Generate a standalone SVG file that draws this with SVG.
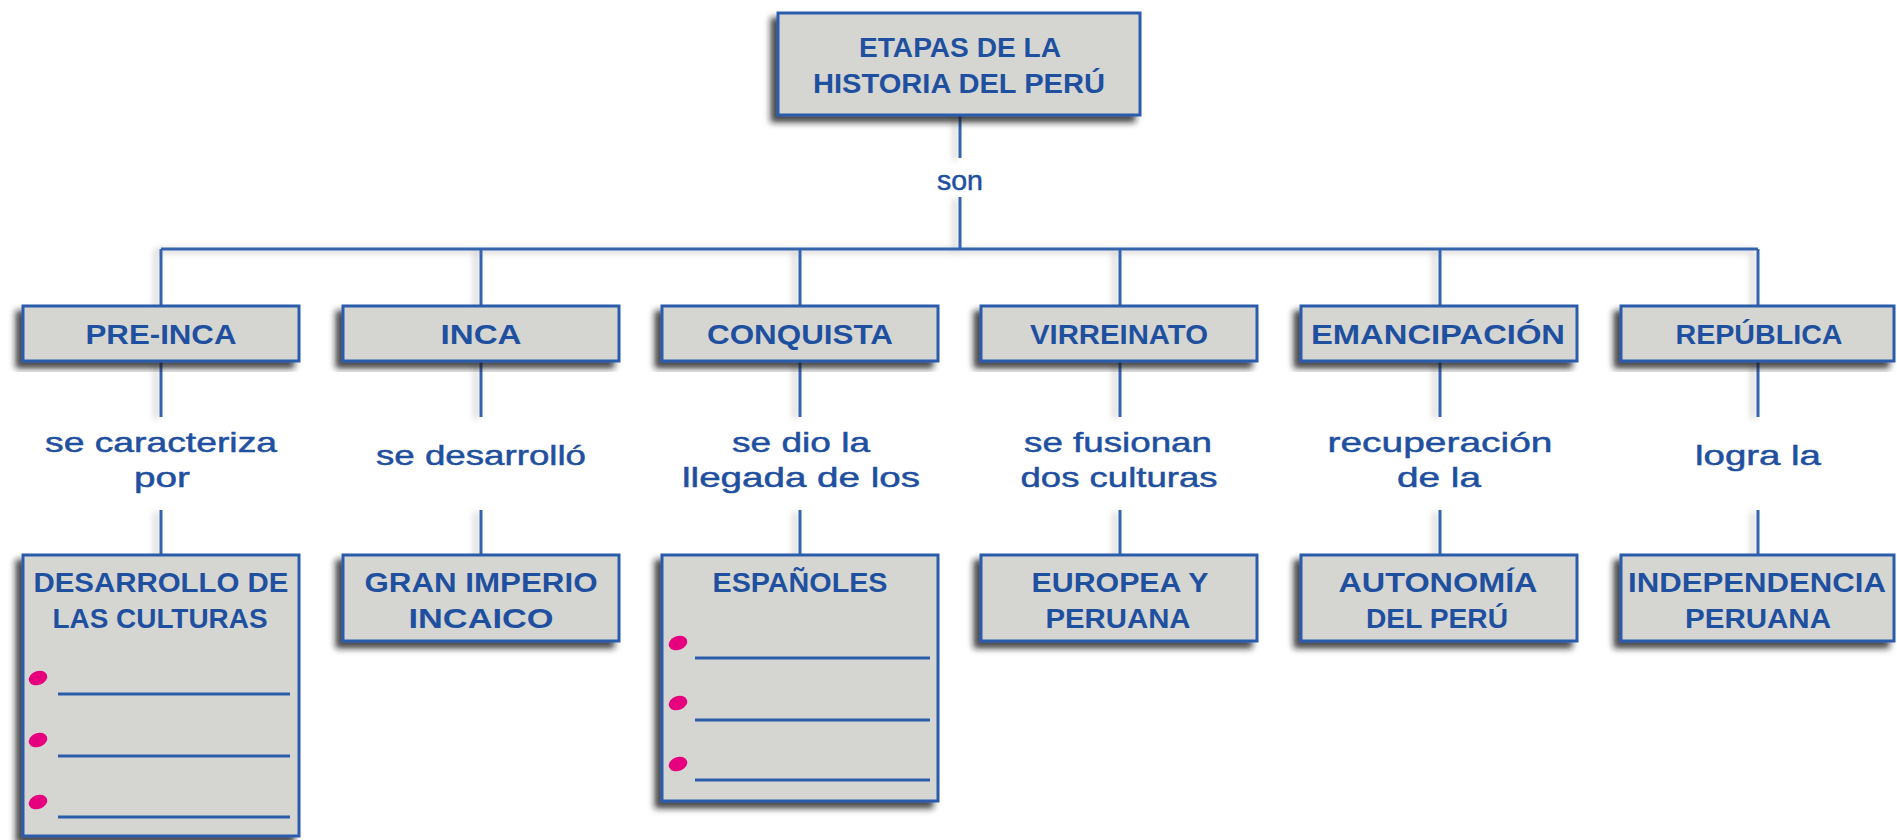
<svg xmlns="http://www.w3.org/2000/svg" width="1897" height="840" viewBox="0 0 1897 840">
<defs>
<filter id="sh" x="-10%" y="-10%" width="125%" height="130%">
<feDropShadow dx="-6" dy="6" stdDeviation="3" flood-color="#1a1a1a" flood-opacity="0.8"/>
</filter>
<filter id="lsh" x="-50%" y="-5%" width="200%" height="110%">
<feDropShadow dx="-5" dy="2" stdDeviation="3" flood-color="#000" flood-opacity="0.25"/>
</filter>
<style>
.box{fill:#d5d6d2;stroke:#2b5cab;stroke-width:3;filter:url(#sh)}
.t{font-family:"Liberation Sans",Arial,sans-serif;font-weight:700;font-size:27px;fill:#1f50a0;text-anchor:middle}
.l{font-family:"Liberation Sans",Arial,sans-serif;font-size:28px;fill:#1f50a0;stroke:#1f50a0;stroke-width:0.5;text-anchor:middle}
.c{stroke:#3563ae;stroke-width:3;fill:none}
.bl{fill:#e6007e}
.dl{stroke:#2b5cab;stroke-width:3}
</style>
</defs>
<rect width="1897" height="840" fill="#ffffff"/>
<g id="connectors" filter="url(#lsh)">
<path class="c" d="M960 115V158M960 197V249M161 249H1758"/>
<path class="c" d="M161 249V306M481 249V306M800 249V306M1120 249V306M1440 249V306M1758 249V306"/>
<path class="c" d="M161 361V417M161 510V555M481 361V417M481 510V555M800 361V417M800 510V555M1120 361V417M1120 510V555M1440 361V417M1440 510V555M1758 361V417M1758 510V555"/>
</g>
<g id="labels">
<text class="l" x="960" y="190" textLength="46" lengthAdjust="spacingAndGlyphs">son</text>
<text class="l" x="161" y="452" textLength="232" lengthAdjust="spacingAndGlyphs">se caracteriza</text>
<text class="l" x="162" y="487" textLength="56" lengthAdjust="spacingAndGlyphs">por</text>
<text class="l" x="481" y="465" textLength="210" lengthAdjust="spacingAndGlyphs">se desarrolló</text>
<text class="l" x="801" y="452" textLength="138" lengthAdjust="spacingAndGlyphs">se dio la</text>
<text class="l" x="801" y="487" textLength="238" lengthAdjust="spacingAndGlyphs">llegada de los</text>
<text class="l" x="1118" y="452" textLength="188" lengthAdjust="spacingAndGlyphs">se fusionan</text>
<text class="l" x="1119" y="487" textLength="197" lengthAdjust="spacingAndGlyphs">dos culturas</text>
<text class="l" x="1440" y="452" textLength="225" lengthAdjust="spacingAndGlyphs">recuperación</text>
<text class="l" x="1439" y="487" textLength="84" lengthAdjust="spacingAndGlyphs">de la</text>
<text class="l" x="1758" y="465" textLength="126" lengthAdjust="spacingAndGlyphs">logra la</text>
</g>
<g id="root">
<rect class="box" x="778" y="13" width="362" height="102"/>
<text class="t" x="960" y="57" textLength="202" lengthAdjust="spacingAndGlyphs">ETAPAS DE LA</text>
<text class="t" x="959" y="93" textLength="292" lengthAdjust="spacingAndGlyphs">HISTORIA DEL PERÚ</text>
</g>
<g id="preinca">
<rect class="box" x="23" y="306" width="276" height="55"/>
<text class="t" x="161" y="344" textLength="151" lengthAdjust="spacingAndGlyphs">PRE-INCA</text>
</g>
<g id="inca">
<rect class="box" x="343" y="306" width="276" height="55"/>
<text class="t" x="481" y="344" textLength="81" lengthAdjust="spacingAndGlyphs">INCA</text>
</g>
<g id="conquista">
<rect class="box" x="662" y="306" width="276" height="55"/>
<text class="t" x="800" y="344" textLength="186" lengthAdjust="spacingAndGlyphs">CONQUISTA</text>
</g>
<g id="virreinato">
<rect class="box" x="981" y="306" width="276" height="55"/>
<text class="t" x="1119" y="344" textLength="178" lengthAdjust="spacingAndGlyphs">VIRREINATO</text>
</g>
<g id="emancipacion">
<rect class="box" x="1301" y="306" width="276" height="55"/>
<text class="t" x="1438" y="344" textLength="254" lengthAdjust="spacingAndGlyphs">EMANCIPACIÓN</text>
</g>
<g id="republica">
<rect class="box" x="1621" y="306" width="273" height="55"/>
<text class="t" x="1759" y="344" textLength="167" lengthAdjust="spacingAndGlyphs">REPÚBLICA</text>
</g>
<g id="desarrollo">
<rect class="box" x="23" y="555" width="276" height="281"/>
<text class="t" x="161" y="592" textLength="255" lengthAdjust="spacingAndGlyphs">DESARROLLO DE</text>
<text class="t" x="160" y="628" textLength="215" lengthAdjust="spacingAndGlyphs">LAS CULTURAS</text>
<ellipse class="bl" cx="38" cy="678" rx="9.5" ry="7" transform="rotate(-20 38 678)"/>
<ellipse class="bl" cx="38" cy="740" rx="9.5" ry="7" transform="rotate(-20 38 740)"/>
<ellipse class="bl" cx="38" cy="802" rx="9.5" ry="7" transform="rotate(-20 38 802)"/>
<path class="dl" d="M58 694H290M58 756H290M58 817H290"/>
</g>
<g id="gran-imperio">
<rect class="box" x="343" y="555" width="276" height="86"/>
<text class="t" x="481" y="592" textLength="233" lengthAdjust="spacingAndGlyphs">GRAN IMPERIO</text>
<text class="t" x="481" y="628" textLength="145" lengthAdjust="spacingAndGlyphs">INCAICO</text>
</g>
<g id="espanoles">
<rect class="box" x="662" y="555" width="276" height="246"/>
<text class="t" x="800" y="592" textLength="175" lengthAdjust="spacingAndGlyphs">ESPAÑOLES</text>
<ellipse class="bl" cx="678" cy="643" rx="9.5" ry="7" transform="rotate(-20 678 643)"/>
<ellipse class="bl" cx="678" cy="703" rx="9.5" ry="7" transform="rotate(-20 678 703)"/>
<ellipse class="bl" cx="678" cy="764" rx="9.5" ry="7" transform="rotate(-20 678 764)"/>
<path class="dl" d="M695 658H930M695 720H930M695 780H930"/>
</g>
<g id="europea">
<rect class="box" x="981" y="555" width="276" height="86"/>
<text class="t" x="1120" y="592" textLength="177" lengthAdjust="spacingAndGlyphs">EUROPEA Y</text>
<text class="t" x="1118" y="628" textLength="145" lengthAdjust="spacingAndGlyphs">PERUANA</text>
</g>
<g id="autonomia">
<rect class="box" x="1301" y="555" width="276" height="86"/>
<text class="t" x="1438" y="592" textLength="199" lengthAdjust="spacingAndGlyphs">AUTONOMÍA</text>
<text class="t" x="1437" y="628" textLength="142" lengthAdjust="spacingAndGlyphs">DEL PERÚ</text>
</g>
<g id="independencia">
<rect class="box" x="1621" y="555" width="273" height="86"/>
<text class="t" x="1757" y="592" textLength="258" lengthAdjust="spacingAndGlyphs">INDEPENDENCIA</text>
<text class="t" x="1758" y="628" textLength="146" lengthAdjust="spacingAndGlyphs">PERUANA</text>
</g>
</svg>
